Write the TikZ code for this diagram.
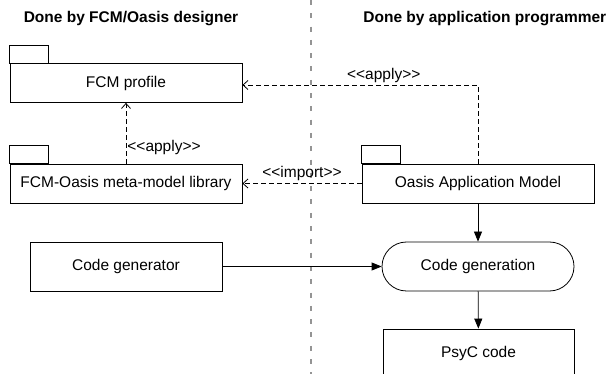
\documentclass[tikz,border=0pt]{standalone}
\usepackage{fontspec}
\setmainfont{Liberation Sans}
\usetikzlibrary{arrows.meta}

\begin{document}
\begin{tikzpicture}[x=1pt, y=-1pt, line width=0.8pt,
	every node/.style={font=\fontsize{15.5}{18}\selectfont},
	head/.style={font=\bfseries\fontsize{15.5}{18}\selectfont},
	pkg/.style={draw, minimum width=232pt, minimum height=39pt, inner sep=0pt},
	box/.style={draw, minimum width=192pt, minimum height=49pt, inner sep=0pt},
	dep/.style={dash pattern=on 5pt off 3pt, -{Straight Barb[length=5pt,width=9pt]}},
	flow/.style={-{Triangle[length=10pt,width=8pt]}}]
	\useasboundingbox (0,0) rectangle (611,374);
	% swimlane divider
	\draw[black!42, line width=2pt, dash pattern=on 5pt off 8.3pt] (310.5,0) -- (310.5,374);
	\node[head] (lefthead) at (131,19) {Done by FCM/Oasis designer};
	\node[head, anchor=west, inner sep=0pt] (righthead) at (363,19) {Done by application programmer};
	% packages
	\node[pkg] (profile) at (126,83) {FCM profile};
	\node[pkg] (library) at (126,183.5) {FCM-Oasis meta-model library};
	\node[pkg] (appmodel) at (478,183.5) {Oasis Application Model};
	\foreach \n in {profile, library, appmodel} {
		\draw (\n.north west) rectangle ++(39,-18);
	}
	% generation
	\node[box] (codegen) at (126,266.5) {Code generator};
	\node[box, rounded corners=24.5pt] (generation) at (478,266.5) {Code generation};
	\node[box, minimum width=191pt] (psyc) at (478.5,353.5) {PsyC code};
	% dependencies
	\draw[dep] (library.north) -- (profile.south) node[pos=0.27, right, inner sep=1pt] {<{}<apply>{}>};
	\draw[dep] (appmodel.north) |- ([yshift=-2pt]profile.east) node[pos=0.7, above, inner sep=2pt] {<{}<apply>{}>};
	\draw[dep] (appmodel.west) -- (library.east) node[midway, above, inner sep=2pt] {<{}<import>{}>};
	\draw[flow] (appmodel) -- (generation);
	\draw[flow] (codegen) -- (generation);
	\draw[flow] (generation) -- (psyc);
\end{tikzpicture}
\end{document}
